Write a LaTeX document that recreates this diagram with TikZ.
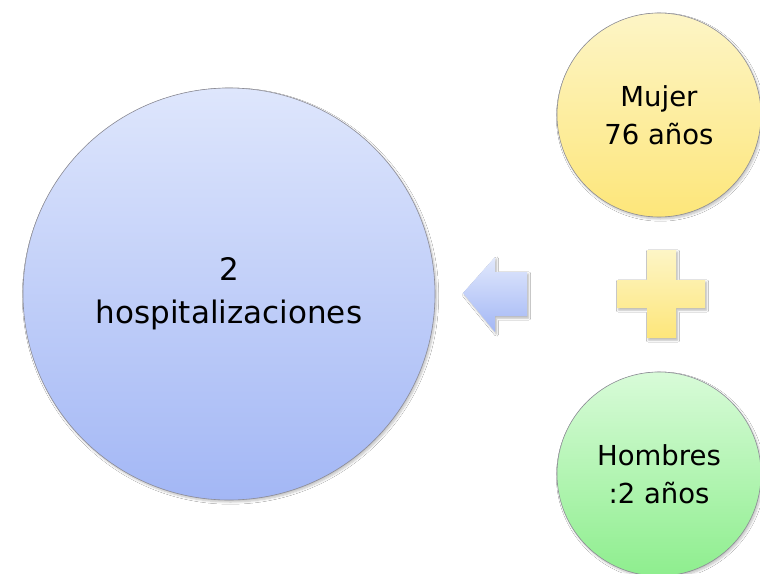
\documentclass[tikz,border=0pt]{standalone}
\usepackage{fontspec}
\setmainfont{DejaVu Sans}
\usetikzlibrary{shadows.blur}
\definecolor{bluetop}{HTML}{DEE6FC}
\definecolor{bluebot}{HTML}{A3B7F5}
\definecolor{yeltop}{HTML}{FDF5C6}
\definecolor{yelbot}{HTML}{FDE67A}
\definecolor{grntop}{HTML}{D8FBD8}
\definecolor{grnbot}{HTML}{8EEE8E}
\definecolor{edgegray}{HTML}{8C8C96}
\tikzset{
  bubble/.style={circle, draw=edgegray, line width=0.6pt, inner sep=0pt, align=center,
    blur shadow={shadow xshift=1.5pt, shadow yshift=-2pt, shadow blur steps=6, shadow opacity=25}},
  bigtext/.style={font=\fontsize{31}{43}\selectfont},
  smalltext/.style={font=\fontsize{27.5}{38}\selectfont},
  shapeshadow/.style={blur shadow={shadow xshift=1.5pt, shadow yshift=-2pt, shadow blur steps=5, shadow opacity=30}}
}
\begin{document}
\begin{tikzpicture}[x=1pt,y=1pt]
\useasboundingbox (0,0) rectangle (760,-573);
\fill[white] (0,0) rectangle (760,-573);
% big circle
\node[bubble, bigtext, minimum size=412pt, top color=bluetop, bottom color=bluebot] (hosp) at (229,-294) {2\\hospitalizaciones};
% yellow circle
\node[bubble, smalltext, minimum size=204pt, top color=yeltop, bottom color=yelbot] (mujer) at (659,-115) {Mujer\\76 años};
% green circle
\node[bubble, smalltext, minimum size=204pt, top color=grntop, bottom color=grnbot] (hombres) at (659,-474) {Hombres\\:2 años};
% left arrow
\path[shapeshadow, top color=bluetop!90!white, bottom color=bluebot]
  (463,-293) -- (495,-257) -- (495,-272) -- (527,-272) -- (527,-316) -- (495,-316) -- (495,-332) -- cycle;
% plus sign
\path[shapeshadow, top color=yeltop, bottom color=yelbot]
  (647,-250) -- (676,-250) -- (676,-280) -- (705,-280) -- (705,-308) -- (676,-308) -- (676,-338)
  -- (647,-338) -- (647,-308) -- (617,-308) -- (617,-280) -- (647,-280) -- cycle;
\end{tikzpicture}
\end{document}
